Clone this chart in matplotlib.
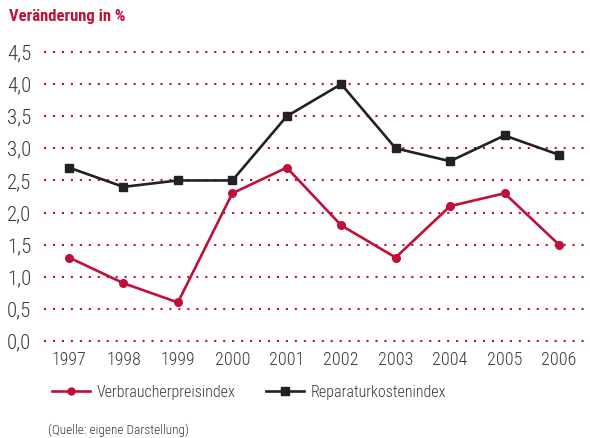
import matplotlib
matplotlib.use("Agg")
import matplotlib.pyplot as plt
from matplotlib.lines import Line2D

years = [1997, 1998, 1999, 2000, 2001, 2002, 2003, 2004, 2005, 2006]
vpi = [1.3, 0.9, 0.6, 2.3, 2.7, 1.8, 1.3, 2.1, 2.3, 1.5]
rki = [2.7, 2.4, 2.5, 2.5, 3.5, 4.0, 3.0, 2.8, 3.2, 2.9]
yticks = [0.0, 0.5, 1.0, 1.5, 2.0, 2.5, 3.0, 3.5, 4.0, 4.5]
ytick_labels = ["0,0", "0,5", "1,0", "1,5", "2,0", "2,5", "3,0", "3,5", "4,0", "4,5"]
title = "Veränderung in %"
series_names = ["Verbraucherpreisindex", "Reparaturkostenindex"]
source = "(Quelle: eigene Darstellung)"

RED = "#C0103A"
DARK = "#222222"
TXT = "#3a3a3a"
FAM = ["Roboto Condensed", "DejaVu Sans"]
plt.rcParams['font.family'] = FAM

fig = plt.figure(figsize=(5.9, 4.38), dpi=100)
ax = fig.add_axes([44/590, (438-341)/438, 1-44/590, (341-52)/438])
ax.set_xlim(1997 - 25/54.4, 2006 + 31/54.4)
ax.set_ylim(0, 4.5)

for y in yticks:
    ax.axhline(y, color=RED, lw=1.5, ls=(0, (1, 3.3)), clip_on=False, zorder=1)

ax.plot(years, vpi, color=RED, lw=1.9, marker="o", ms=5.5, clip_on=False, zorder=3)
ax.plot(years, rki, color=DARK, lw=1.9, marker="s", ms=6, clip_on=False, zorder=3)

ax.set_yticks(yticks)
ax.set_yticklabels(ytick_labels, fontsize=15, color=TXT, fontweight="light")
ax.set_xticks(years)
ax.set_xticklabels([str(y) for y in years], fontsize=13, color=TXT, fontweight="light")
ax.tick_params(axis='both', length=0)
ax.tick_params(axis='y', pad=9)
ax.tick_params(axis='x', pad=7)
for s in ax.spines.values():
    s.set_visible(False)
ax.set_facecolor("none")

fig.text(9/590, 1-17/438, title, fontsize=12, fontweight="bold", color=RED,
         va="center", ha="left")

handles = [Line2D([], [], color=RED, lw=1.9, marker="o", ms=5),
           Line2D([], [], color=DARK, lw=1.9, marker="s", ms=5.5)]
fig.legend(handles, series_names, loc="center left",
           bbox_to_anchor=(46/590, 1-392/438), ncol=2, frameon=False,
           prop={"family": FAM, "size": 11.5, "weight": "light"},
           handlelength=2.35, handletextpad=0.45, columnspacing=1.9,
           labelcolor=TXT, borderaxespad=0)

fig.text(48/590, 1-430/438, source, fontsize=9.5, color=TXT, va="center", ha="left",
         fontweight="light")

fig.savefig("out.png", dpi=100)
